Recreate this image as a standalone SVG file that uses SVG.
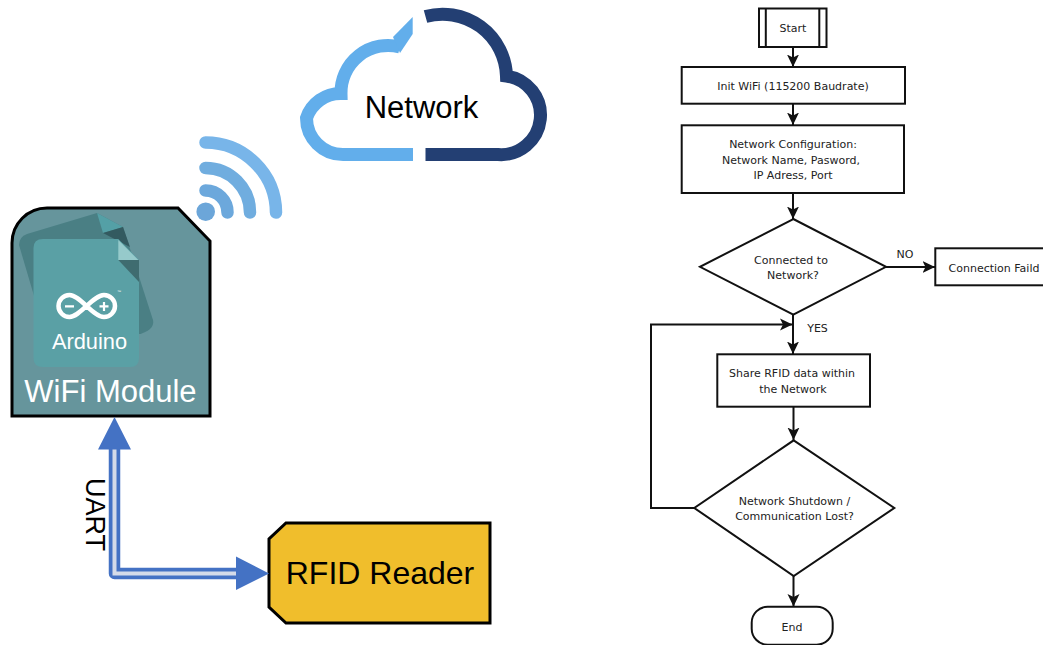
<svg xmlns="http://www.w3.org/2000/svg" width="1043" height="645" viewBox="0 0 1043 645">
<style>
.a{font-family:"Liberation Sans",Arial,sans-serif}
.f{font-family:"DejaVu Sans",Verdana,sans-serif;font-size:11px;fill:#222;text-anchor:middle}
.b{fill:#fff;stroke:#111;stroke-width:2}
.c{fill:none;stroke:#111;stroke-width:2}
.w{fill:none;stroke-width:12.5;stroke-linecap:round}
</style>
<defs>
<marker id="ah" markerUnits="userSpaceOnUse" markerWidth="14" markerHeight="14" refX="12.5" refY="6.5" orient="auto"><path d="M0,0.5 L12.5,6.5 L0,12.5 L3,6.5 Z" fill="#111"/></marker>
</defs>
<rect width="1043" height="645" fill="#fff"/>
<g id="cloud">
<path d="M413,154.5 H343 A36.500,36.500 0 0 1 306.500,118 A36,36 0 0 1 341,93.500 A47,47 0 0 1 400,47" fill="none" stroke="#62aeeb" stroke-width="13"/>
<path d="M393,37 L412.700,17 V34 L400,53 Z" fill="#62aeeb"/>
<path d="M425.500,16.500 A64,64 0 0 1 506.500,76 A39.500,39.500 0 0 1 498,154.500 H425.500" fill="none" stroke="#233f73" stroke-width="13"/>
<text class="a" x="421.500" y="118" font-size="31" text-anchor="middle" fill="#000">Network</text>
</g>
<g id="wifi-signal">
<circle cx="205.700" cy="211.700" r="9.300" fill="#6ca6d9"/>
<path class="w" d="M205.500,190.500 A22,22 0 0 1 227.500,212.500" stroke="#6ca8dc"/>
<path class="w" d="M205.500,168 A44.500,44.500 0 0 1 250,212.500" stroke="#70addf"/>
<path class="w" d="M205.500,142.500 A70.500,70.500 0 0 1 276,212.500" stroke="#78b5e9"/>
</g>
<g id="wifi-module">
<path d="M12,416 V243 A35,35 0 0 1 47,208 H178 L210,241 V416 Z" fill="#66959c" stroke="#000" stroke-width="3"/>
<path d="M19,245 Q19,237 27,234 L97,213 L123,227 L153,320 Q155,330 139,334 L50,350 Z" fill="#4a7f84"/>
<path d="M97,213 L123,227 L103,233 Z" fill="#54a0a6"/>
<path d="M103,233 L123,227 L130,247 Z" fill="#335a60"/>
<path d="M43,239 H118.300 L139,260 V358 Q139,367 130,367 H43 Q33.500,367 33.500,358 V248 Q33.500,239 43,239 Z" fill="#5aa0a5"/>
<path d="M118.300,240 L138.300,260 H118.300 Z" fill="#96cacb"/>
<path d="M118.300,260 H139 V282 Z" fill="#3f6c70"/>
<path d="M69.500,295 A11,11 0 0 0 69.500,317 C80,317 93,295 104,295 A11,11 0 0 1 104,317 C93,317 80,295 69.500,295 Z" fill="none" stroke="#fff" stroke-width="4.500"/>
<path d="M65,306.300 H74 M99.500,306.300 H108.500 M104,302 V311" fill="none" stroke="#fff" stroke-width="2.200"/>
<text class="a" x="119" y="293" font-size="4" text-anchor="middle" fill="#fff">™</text>
<text class="a" x="89.500" y="349" font-size="21.800" text-anchor="middle" fill="#fff">Arduino</text>
<text class="a" x="110.500" y="402" font-size="31" text-anchor="middle" fill="#fff">WiFi Module</text>
</g>
<g id="rfid-reader">
<path d="M286,523 H490 V623 H286 L269,607 V539 Z" fill="#f0be2c" stroke="#000" stroke-width="3"/>
<text class="a" x="380" y="584" font-size="32" text-anchor="middle" fill="#000">RFID Reader</text>
</g>
<g id="uart-link">
<path d="M114.500,445 V573.500 H240" fill="none" stroke="#4472c4" stroke-width="11.500" stroke-linejoin="round"/>
<path d="M114.500,445 V573.500 H240" fill="none" stroke="#d4dbe9" stroke-width="4"/>
<path d="M114.500,417 L131,449.500 H98 Z M269,573.500 L236,556.500 V590 Z" fill="#4472c4"/>
<text class="a" transform="translate(86,478) rotate(90)" font-size="27" fill="#000">UART</text>
</g>
<g id="connectors">
<path class="c" d="M793,47 V67" marker-end="url(#ah)"/>
<path class="c" d="M793,104 V125" marker-end="url(#ah)"/>
<path class="c" d="M793,193 V219" marker-end="url(#ah)"/>
<path class="c" d="M886,267 H935" marker-end="url(#ah)"/>
<path class="c" d="M793,315 V354" marker-end="url(#ah)"/>
<path class="c" d="M793.500,407 V440" marker-end="url(#ah)"/>
<path class="c" d="M694,508 H651 V324.500 H792.500" marker-end="url(#ah)"/>
<path class="c" d="M793.500,576 V606.500" marker-end="url(#ah)"/>
<text class="f" x="905" y="258">NO</text>
<text class="f" x="817.500" y="331.500">YES</text>
</g>
<g id="start"><rect class="b" x="759" y="8.500" width="67.500" height="38.500"/><path class="c" d="M765.800,8.500 V47 M819.300,8.500 V47"/><text class="f" x="793" y="32">Start</text></g>
<g id="init"><rect class="b" x="681.700" y="67" width="223.300" height="36.700"/><text class="f" x="793" y="90">Init WiFi (115200 Baudrate)</text></g>
<g id="config"><rect class="b" x="681.700" y="125.300" width="222.300" height="67.700"/><text class="f" x="793" y="148">Network Configuration:</text><text class="f" x="791" y="164">Network Name, Pasword,</text><text class="f" x="793" y="179">IP Adress, Port</text></g>
<g id="connected"><path class="b" d="M793.300,219 L886,266.800 L793.300,314.700 L700,266.800 Z"/><text class="f" x="791" y="264">Connected to</text><text class="f" x="793" y="279">Network?</text></g>
<g id="failed"><rect class="b" x="935.300" y="248.300" width="110" height="37"/><text class="f" x="994" y="272">Connection Faild</text></g>
<g id="share"><rect class="b" x="717.300" y="354.300" width="152.700" height="52.400"/><text class="f" x="792" y="377">Share RFID data within</text><text class="f" x="793" y="393">the Network</text></g>
<g id="shutdown"><path class="b" d="M793.700,440.300 L894.300,508 L793.700,576 L694.300,508 Z"/><text class="f" x="794.500" y="505">Network Shutdown /</text><text class="f" x="794.500" y="520">Communication Lost?</text></g>
<g id="end"><rect class="b" x="751.700" y="606.700" width="81" height="38" rx="16" ry="16"/><text class="f" x="792" y="631">End</text></g>
</svg>
